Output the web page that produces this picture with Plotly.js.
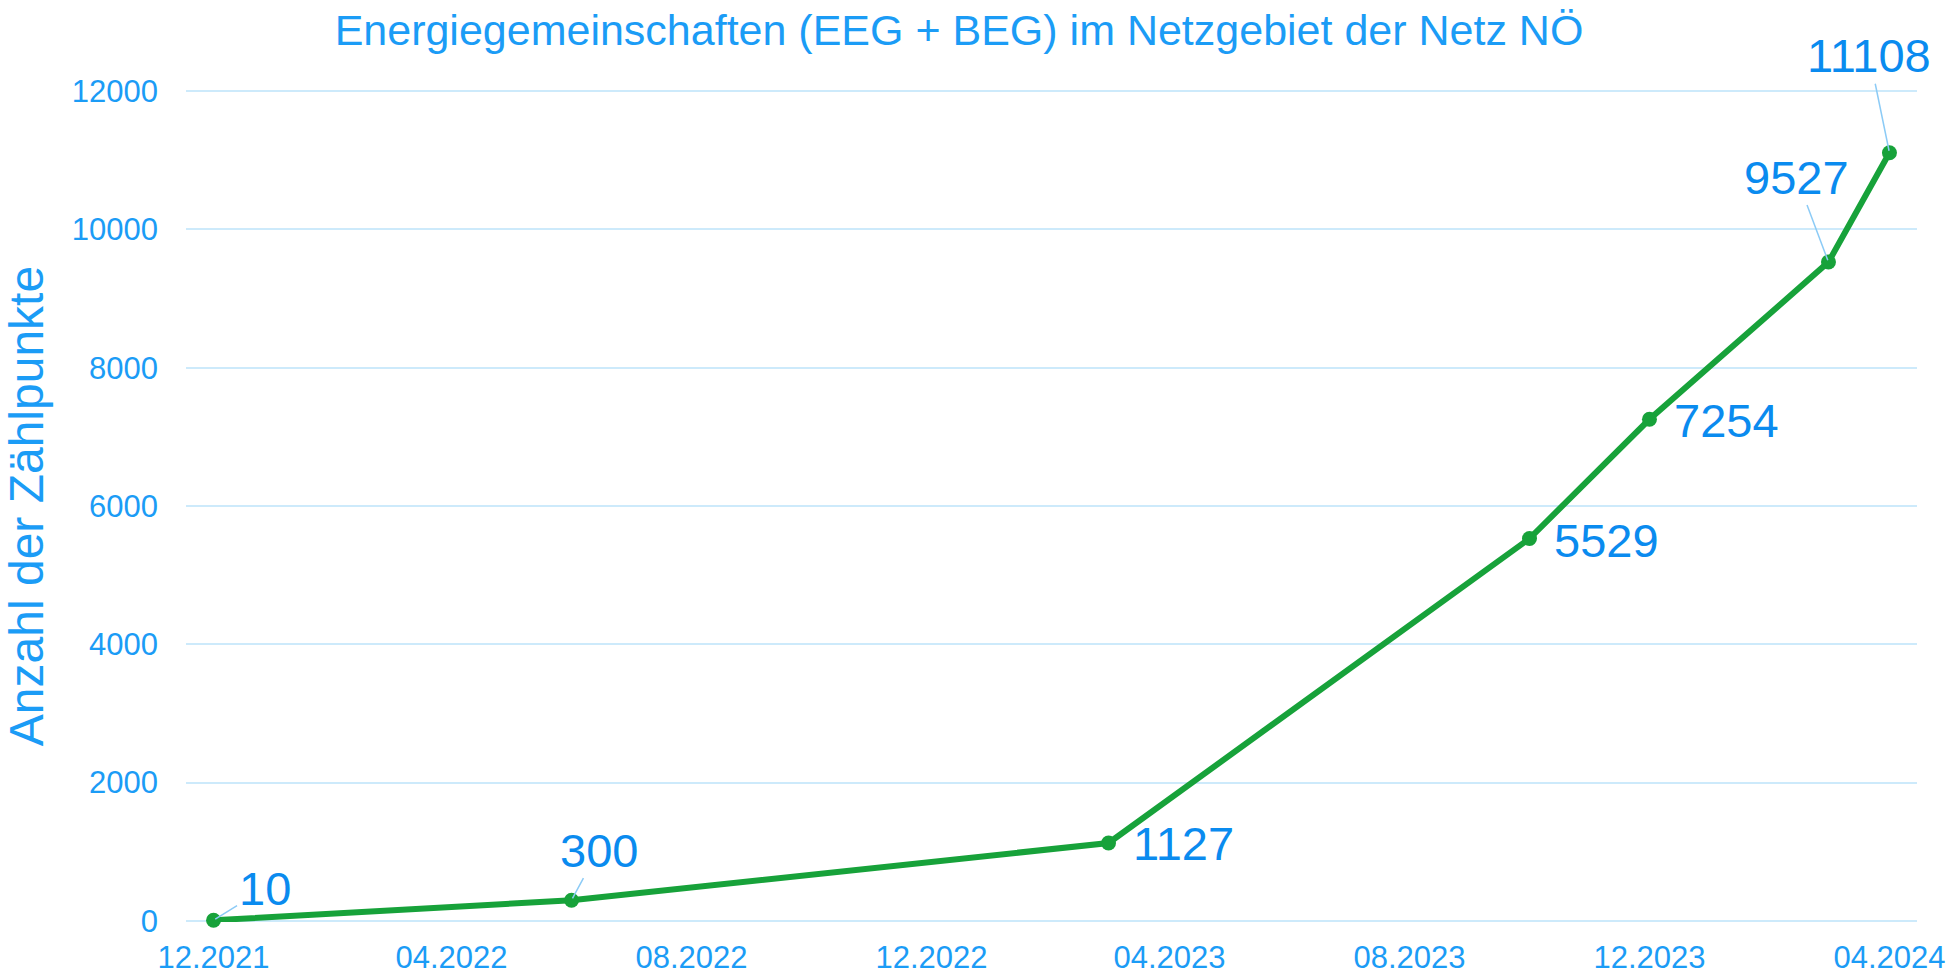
<!DOCTYPE html>
<html>
<head>
<meta charset="utf-8">
<script src="https://cdn.plot.ly/plotly-3.0.1.min.js"></script>
<style>
  html, body { margin: 0; padding: 0; background: #ffffff; }
  #chart { width: 1952px; height: 976px; }
</style>
</head>
<body>
<div id="chart"></div>
<script>
// ---- data ----
const months = ["2021-12-01", "2022-06-01", "2023-03-01", "2023-10-01", "2023-12-01", "2024-03-01", "2024-04-01"];
const zaehlpunkte = [10, 300, 1127, 5529, 7254, 9527, 11108];
const xTickVals = ["2021-12-01", "2022-04-01", "2022-08-01", "2022-12-01", "2023-04-01", "2023-08-01", "2023-12-01", "2024-04-01"];
const xTickText = ["12.2021", "04.2022", "08.2022", "12.2022", "04.2023", "08.2023", "12.2023", "04.2024"];
const yTickVals = [0, 2000, 4000, 6000, 8000, 10000, 12000];
const titleText = "Energiegemeinschaften (EEG + BEG) im Netzgebiet der Netz NÖ";
const yTitleText = "Anzahl der Zählpunkte";

// ---- label placement (pixel offsets from point; style only) ----
const labelOffsets = [
  {ax: 51, ay: -32, leader: true},
  {ax: 27, ay: -50, leader: true},
  {ax: 75, ay: 0, leader: false},
  {ax: 77, ay: 2, leader: false},
  {ax: 77, ay: 1, leader: false},
  {ax: -32, ay: -85, leader: true},
  {ax: -20, ay: -97, leader: true}
];

const FONT = "Liberation Sans, Arial, sans-serif";
const LIGHT_BLUE = "#1B9CF6";
const LABEL_BLUE = "#0A8BEF";
const GREEN = "#17A23A";
const GRID = "#CDEAFB";

const annotations = months.map((m, i) => {
  const o = labelOffsets[i];
  const base = {
    x: m, y: zaehlpunkte[i], xref: "x", yref: "y",
    text: String(zaehlpunkte[i]),
    font: {family: FONT, size: 47, color: LABEL_BLUE}
  };
  if (o.leader) {
    return Object.assign(base, {
      showarrow: true, arrowhead: 0, arrowwidth: 1.5, arrowcolor: "#8CCBF6",
      ax: o.ax, ay: o.ay, standoff: 2
    });
  }
  return Object.assign(base, {showarrow: false, xshift: o.ax, yshift: -o.ay});
});

const trace = {
  type: "scatter",
  mode: "lines+markers",
  x: months,
  y: zaehlpunkte,
  line: {color: GREEN, width: 6},
  marker: {color: GREEN, size: 15},
  cliponaxis: false,
  hoverinfo: "x+y"
};

const layout = {
  width: 1952,
  height: 976,
  paper_bgcolor: "#ffffff",
  plot_bgcolor: "#ffffff",
  margin: {l: 186, r: 35, t: 90, b: 54},
  showlegend: false,
  font: {family: FONT, color: LIGHT_BLUE},
  title: {
    text: titleText,
    font: {family: FONT, size: 43, color: LIGHT_BLUE},
    xref: "container", yref: "container",
    x: 959 / 1952, xanchor: "center",
    y: 1 - 30 / 976, yanchor: "middle"
  },
  xaxis: {
    type: "date",
    range: ["2021-11-17", "2024-04-15"],
    tickmode: "array",
    tickvals: xTickVals,
    ticktext: xTickText,
    tickfont: {family: FONT, size: 31, color: LIGHT_BLUE},
    showgrid: false,
    zeroline: false,
    showline: false,
    ticks: "",
    ticklabelstandoff: 14
  },
  yaxis: {
    range: [-15, 12015],
    tickmode: "array",
    tickvals: yTickVals,
    ticktext: yTickVals.map(String),
    tickfont: {family: FONT, size: 31, color: LIGHT_BLUE},
    showgrid: true,
    gridcolor: GRID,
    gridwidth: 2,
    zeroline: false,
    showline: false,
    ticks: "",
    ticklabelstandoff: 27,
    title: {
      text: yTitleText,
      font: {family: FONT, size: 48, color: LIGHT_BLUE},
      standoff: 14
    }
  },
  annotations: annotations
};

Plotly.newPlot("chart", [trace], layout, {displayModeBar: false, staticPlot: true});
</script>
</body>
</html>
